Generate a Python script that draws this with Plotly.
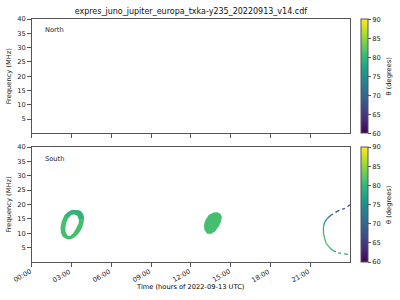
import plotly.graph_objects as go
from plotly.colors import sample_colorscale

# ---- data ----
title_text = "expres_juno_jupiter_europa_txka-y235_20220913_v14.cdf"
hour_ticks = [0, 3, 6, 9, 12, 15, 18, 21]
hour_labels = ["00:00", "03:00", "06:00", "09:00", "12:00", "15:00", "18:00", "21:00"]
freq_ticks = [5, 10, 15, 20, 25, 30, 35, 40]
theta_ticks = [60, 65, 70, 75, 80, 85, 90]

# South source 1: ring (outer and inner outline), hours / MHz
ring_outer_t = [3.34, 3.65, 3.87, 3.95, 3.91, 3.80, 3.57, 3.27, 2.97, 2.66, 2.36, 2.21, 2.17, 2.25, 2.44, 2.74, 3.04]
ring_outer_f = [18.1, 17.8, 16.7, 15.3, 13.6, 11.9, 10.1, 8.7, 7.9, 7.9, 8.7, 10.1, 11.9, 13.9, 16.0, 17.4, 18.1]
ring_inner_t = [3.19, 3.44, 3.55, 3.55, 3.38, 3.14, 2.89, 2.71, 2.55, 2.54, 2.62, 2.79, 2.97]
ring_inner_f = [16.6, 16.2, 15.0, 13.6, 11.9, 10.1, 9.0, 9.2, 10.5, 12.2, 13.9, 15.5, 16.4]
ring_theta = 81.0
# upper cap of the ring (slightly more teal)
cap_t = [2.44, 2.74, 3.04, 3.34, 3.65, 3.87, 3.95, 3.55, 3.44, 3.19, 2.97, 2.79]
cap_f = [16.0, 17.4, 18.1, 18.1, 17.8, 16.7, 15.3, 15.0, 16.2, 16.6, 16.4, 15.5]
cap_theta = 79.5

# South source 2: filled blob
blob_t = [13.68, 13.98, 14.21, 14.32, 14.25, 14.06, 13.83, 13.53, 13.23, 13.04, 13.00, 13.12, 13.38]
blob_f = [17.1, 17.2, 16.8, 15.7, 13.9, 12.2, 10.8, 9.8, 9.9, 11.2, 12.9, 14.6, 16.4]
blob_theta = 81.0

# South source 3: arc near the end of the day
arc_t = [24.0, 23.62, 23.1, 22.6, 22.3, 22.1, 22.0, 22.0, 22.08, 22.2, 22.5, 22.74, 23.1, 23.62, 24.0]
arc_f = [19.9, 18.7, 17.8, 16.4, 15.2, 14.0, 12.3, 10.0, 8.3, 6.5, 4.8, 3.95, 3.2, 2.8, 2.6]
arc_theta = [66, 67, 69, 72, 75, 77, 79, 80.5, 81, 81, 80, 79.5, 79, 78, 77]

TMIN, TMAX = 60, 90

def vcol(v):
    return sample_colorscale("Viridis", [(v - TMIN) / (TMAX - TMIN)])[0]

fig = go.Figure()

# ring with a hole: outer outline, then inner outline reversed
rx = ring_outer_t + [ring_outer_t[0]] + ring_inner_t[::-1] + [ring_inner_t[-1]]
ry = ring_outer_f + [ring_outer_f[0]] + ring_inner_f[::-1] + [ring_inner_f[-1]]
fig.add_trace(go.Scatter(x=rx, y=ry, mode="lines", fill="toself", fillcolor=vcol(ring_theta),
                         line=dict(width=0, color=vcol(ring_theta)), xaxis="x2", yaxis="y2",
                         hoverinfo="skip", showlegend=False))
fig.add_trace(go.Scatter(x=cap_t, y=cap_f, mode="lines", fill="toself", fillcolor=vcol(cap_theta),
                         line=dict(width=0, color=vcol(cap_theta)), xaxis="x2", yaxis="y2",
                         hoverinfo="skip", showlegend=False))
fig.add_trace(go.Scatter(x=blob_t, y=blob_f, mode="lines", fill="toself", fillcolor=vcol(blob_theta),
                         line=dict(width=0.5, color=vcol(blob_theta)), xaxis="x2", yaxis="y2",
                         hoverinfo="skip", showlegend=False))
for i in range(len(arc_t) - 1):
    fig.add_trace(go.Scatter(x=arc_t[i:i + 2], y=arc_f[i:i + 2], mode="lines",
                             line=dict(width=1.3, color=vcol(arc_theta[i]),
                                       dash="dot" if i in (0, 1, 2, 11, 12, 13) else "solid"),
                             xaxis="x2", yaxis="y2", hoverinfo="skip", showlegend=False))

TXT = "#1a1a1a"
font_small = dict(family="DejaVu Sans", size=6.7, color=TXT)

def cbar(y0, ln):
    return dict(x=360.5 / 400, xanchor="left", y=y0, yanchor="bottom", len=ln, lenmode="fraction",
                thickness=7, thicknessmode="pixels", xpad=0, ypad=0, outlinewidth=1, outlinecolor="#555",
                tickvals=theta_ticks, ticks="outside", ticklen=3, tickcolor="#555",
                tickfont=font_small)

# dummy traces carrying the colour bars
fig.add_trace(go.Scatter(x=[None], y=[None], mode="markers", xaxis="x", yaxis="y", showlegend=False,
                         marker=dict(color=[TMIN], colorscale="Viridis", cmin=TMIN, cmax=TMAX,
                                     showscale=True, colorbar=cbar(1 - 133.3 / 300, (133.3 - 19) / 300))))
fig.add_trace(go.Scatter(x=[None], y=[None], mode="markers", xaxis="x2", yaxis="y2", showlegend=False,
                         marker=dict(color=[TMIN], colorscale="Viridis", cmin=TMIN, cmax=TMAX,
                                     showscale=True, colorbar=cbar(1 - 262 / 300, (262 - 147) / 300))))

xd = [31.7 / 400, 350 / 400]
ax_common = dict(showgrid=False, zeroline=False, showline=True, linecolor="#555", linewidth=1, mirror=True,
                 ticks="outside", ticklen=3.5, tickcolor="#555", tickfont=font_small, automargin=False)

annotations = [
    dict(text="North", x=43 / 400, y=1 - 29.5 / 300, xref="paper", yref="paper", xanchor="left",
         yanchor="middle", showarrow=False, font=font_small),
    dict(text="South", x=43 / 400, y=1 - 158.5 / 300, xref="paper", yref="paper", xanchor="left",
         yanchor="middle", showarrow=False, font=font_small),
    dict(text="θ (degrees)", x=388.5 / 400, y=1 - 76 / 300, xref="paper", yref="paper",
         textangle=-90, showarrow=False, font=font_small, xanchor="center", yanchor="middle"),
    dict(text="θ (degrees)", x=388.5 / 400, y=1 - 204.5 / 300, xref="paper", yref="paper",
         textangle=-90, showarrow=False, font=font_small, xanchor="center", yanchor="middle"),
    dict(text="Time (hours of 2022-09-13 UTC)", x=190.9 / 400, y=1 - 287 / 300, xref="paper", yref="paper",
         showarrow=False, font=dict(family="DejaVu Sans", size=6.7, color="#000000"),
         xanchor="center", yanchor="middle"),
]
# rotated hour labels, upper-right corner at the tick
for hv, lab in zip(hour_ticks, hour_labels):
    annotations.append(dict(text=lab, x=hv, xref="x2", y=1 - 266.5 / 300, yref="paper", xanchor="right",
                            yanchor="top", xshift=2, textangle=-30, showarrow=False, font=font_small,
                            borderpad=0))

fig.update_layout(
    width=400, height=300, margin=dict(l=0, r=0, t=0, b=0),
    paper_bgcolor="white", plot_bgcolor="white",
    xaxis=dict(domain=xd, range=[0, 24], anchor="y", tickvals=hour_ticks, showticklabels=False, **ax_common),
    yaxis=dict(domain=[1 - 133.3 / 300, 1 - 19 / 300], range=[0, 40], anchor="x", tickvals=freq_ticks,
               title=dict(text="Frequency (MHz)", font=font_small, standoff=4), **ax_common),
    xaxis2=dict(domain=xd, range=[0, 24], anchor="y2", tickvals=hour_ticks, showticklabels=False, **ax_common),
    yaxis2=dict(domain=[1 - 262 / 300, 1 - 147 / 300], range=[0, 40], anchor="x2", tickvals=freq_ticks,
                title=dict(text="Frequency (MHz)", font=font_small, standoff=4), **ax_common),
    title=dict(text=title_text, x=190.9 / 400, xanchor="center", y=1 - 11 / 300, yanchor="middle",
               font=dict(family="DejaVu Sans", size=8, color="#111")),
    annotations=annotations,
)

fig.write_html("out.html")
